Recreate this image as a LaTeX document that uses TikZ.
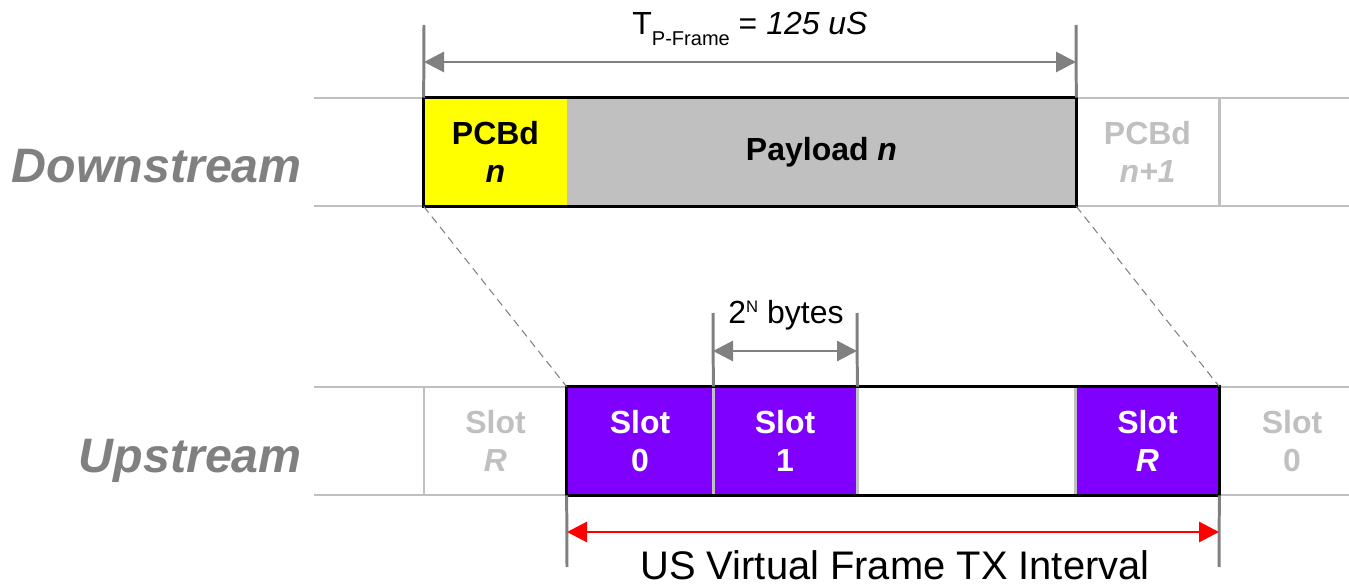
\documentclass[tikz,border=0pt]{standalone}
\usepackage{fontspec}
\setmainfont{Liberation Sans}
\usetikzlibrary{arrows.meta}

\definecolor{pcbdyellow}{HTML}{FFFF00}
\definecolor{payloadgray}{HTML}{C0C0C0}
\definecolor{ghostgray}{HTML}{C0C0C0}
\definecolor{dimgray}{HTML}{808080}
\definecolor{slotpurple}{HTML}{8000FF}

\tikzset{
  cell/.style={minimum height=2.16cm, inner sep=0pt, align=center,
    font=\fontsize{18.2}{22}\selectfont\bfseries},
  ghostcell/.style={cell, text=ghostgray},
  slotcell/.style={cell, fill=slotpurple, text=white},
  ghostline/.style={ghostgray, line width=1.7pt},
  frameline/.style={black, line width=1.7pt},
  dimline/.style={dimgray, line width=1.7pt},
  dimarrow/.style={dimgray, line width=1.7pt,
    {Triangle[length=0.4cm,width=0.4cm]}-{Triangle[length=0.4cm,width=0.4cm]}},
  redarrow/.style={red, line width=1.7pt,
    {Triangle[length=0.4cm,width=0.4cm]}-{Triangle[length=0.4cm,width=0.4cm]}},
  zoomline/.style={dimgray, line width=0.6pt, dash pattern=on 4.5pt off 3pt},
  rowlabel/.style={anchor=base east, text=dimgray,
    font=\fontsize{27.5}{32}\selectfont\bfseries\itshape},
  dimlabel/.style={anchor=base, font=\fontsize{18.2}{22}\selectfont},
}

\begin{document}
\begin{tikzpicture}[x=0.02cm, y=-0.02cm]
  \useasboundingbox (0,0) rectangle (1349,584);
  % Downstream frame
  \draw[ghostline] (314,98) -- (1349,98);
  \draw[ghostline] (314,206) -- (1349,206);
  \draw[ghostline] (1219,98) -- (1219,206);
  \node[cell, fill=pcbdyellow, minimum width=2.86cm] (pcbd) at (495.5,152) {PCBd\\\textit{n}};
  \node[cell, fill=payloadgray, minimum width=10.18cm] (payload) at (821.5,152) {Payload \textit{n}};
  \node[ghostcell, minimum width=2.86cm] (pcbdnext) at (1147.5,152) {PCBd\\\textit{n+1}};
  \draw[frameline] (pcbd.north west) rectangle (payload.south east);
  \node[rowlabel] (down) at (308,183) {Downstream};

  % T P-Frame
  \coordinate (ptop) at (424,25);
  \coordinate (qtop) at (1076,25);
  \coordinate (parr) at (424,62);
  \coordinate (qarr) at (1076,62);
  \draw[dimline] (ptop) -- (pcbd.north west);
  \draw[dimline] (qtop) -- (payload.north east);
  \draw[dimarrow] (parr) -- (qarr);
  \node[dimlabel] (tframe) at (750,35)
    {T\raisebox{-5.7pt}{\fontsize{11.4}{12}\selectfont P-Frame} = \textit{125 uS}};

  % Upstream frame
  \draw[ghostline] (314,387) -- (1349,387);
  \draw[ghostline] (314,495) -- (1349,495);
  \draw[ghostline] (424,387) -- (424,495);
  \node[ghostcell, minimum width=2.86cm] (slotprev) at (495.5,441) {Slot\\\textit{R}};
  \node[slotcell, minimum width=2.92cm] (slot0) at (640,441) {Slot\\0};
  \node[slotcell, minimum width=2.88cm] (slot1) at (785,441) {Slot\\1};
  \node[cell, minimum width=4.38cm] (gap) at (966.5,441) {};
  \node[slotcell, minimum width=2.86cm] (slotR) at (1147.5,441) {Slot\\\textit{R}};
  \node[ghostcell, minimum width=2.92cm] (slotnext) at (1292,441) {Slot\\0};
  \draw[ghostline] (slot0.north east) -- (slot0.south east);
  \draw[ghostline] (slot1.north east) -- (slot1.south east);
  \draw[ghostline] (slotR.north west) -- (slotR.south west);
  \draw[frameline] (slot0.north west) rectangle (slotR.south east);
  \node[rowlabel] (up) at (308,472) {Upstream};

  % 2^N bytes
  \coordinate (btop) at (713,313);
  \coordinate (etop) at (857,313);
  \coordinate (barr) at (713,351);
  \coordinate (earr) at (857,351);
  \draw[dimline] (btop) -- (slot0.north east);
  \draw[dimline] (etop) -- (slot1.north east);
  \draw[dimarrow] (barr) -- (earr);
  \node[dimlabel] (bytes) at (786,323)
    {2\raisebox{5.7pt}{\fontsize{9.5}{10}\selectfont N} bytes};

  % zoom lines
  \draw[zoomline] (pcbd.south west) -- (slot0.north west);
  \draw[zoomline] (payload.south east) -- (slotR.north east);

  % US interval
  \coordinate (ubot) at (567,567);
  \coordinate (vbot) at (1219,567);
  \coordinate (uarr) at (567,532);
  \coordinate (varr) at (1219,532);
  \draw[dimline] (slot0.south west) -- (ubot);
  \draw[dimline] (slotR.south east) -- (vbot);
  \draw[redarrow] (uarr) -- (varr);
  \node[anchor=base, inner sep=0pt, font=\fontsize{22.7}{26}\selectfont] (interval) at (895,579)
    {US Virtual Frame TX Interval};
\end{tikzpicture}
\end{document}
